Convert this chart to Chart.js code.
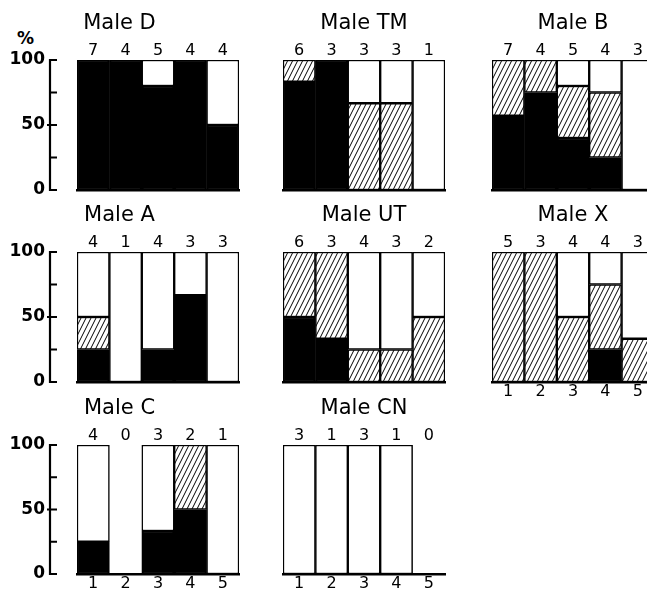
<!DOCTYPE html>
<html><head><meta charset="utf-8">
<script src="https://cdn.jsdelivr.net/npm/chart.js@4.4.1/dist/chart.umd.min.js"></script>
<style>
html,body{margin:0;padding:0;width:647px;height:594px;overflow:hidden;background:#fff;}
canvas{position:absolute;}
#pct{position:absolute;left:17px;top:28px;font:bold 17px "DejaVu Sans";color:#000;}
</style></head><body>
<div id="pct">%</div>
<script>
// ---- data ----
const categories = ['1','2','3','4','5'];
const yTicks = [0,25,50,75,100];
const yLabels = ['0','50','100'];
const panelNames = ['Male D','Male TM','Male B','Male A','Male UT','Male X','Male C','Male CN'];

const countsD  = [7,4,5,4,4];
const blackD   = [100,100,80,100,50];
const hatchD   = [null,null,null,null,null];
const whiteD   = [null,null,20,null,50];

const countsTM = [6,3,3,3,1];
const blackTM  = [83.3,100,null,null,null];
const hatchTM  = [16.7,null,66.7,66.7,null];
const whiteTM  = [null,null,33.3,33.3,100];

const countsB  = [7,4,5,4,3];
const blackB   = [57.1,75,40,25,null];
const hatchB   = [42.9,25,40,50,null];
const whiteB   = [null,null,20,25,100];

const countsA  = [4,1,4,3,3];
const blackA   = [25,null,25,66.7,null];
const hatchA   = [25,null,null,null,null];
const whiteA   = [50,100,75,33.3,100];

const countsUT = [6,3,4,3,2];
const blackUT  = [50,33.3,null,null,null];
const hatchUT  = [50,66.7,25,25,50];
const whiteUT  = [null,null,75,75,50];

const countsX  = [5,3,4,4,3];
const blackX   = [null,null,null,25,null];
const hatchX   = [100,100,50,50,33.3];
const whiteX   = [null,null,50,25,66.7];

const countsC  = [4,0,3,2,1];
const blackC   = [25,null,33.3,50,null];
const hatchC   = [null,null,null,50,null];
const whiteC   = [75,null,66.7,null,100];

const countsCN = [3,1,3,1,0];
const blackCN  = [null,null,null,null,null];
const hatchCN  = [null,null,null,null,null];
const whiteCN  = [100,100,100,100,null];

const panelCounts = [countsD,countsTM,countsB,countsA,countsUT,countsX,countsC,countsCN];
const panelBlack  = [blackD,blackTM,blackB,blackA,blackUT,blackX,blackC,blackCN];
const panelHatch  = [hatchD,hatchTM,hatchB,hatchA,hatchUT,hatchX,hatchC,hatchCN];
const panelWhite  = [whiteD,whiteTM,whiteB,whiteA,whiteUT,whiteX,whiteC,whiteCN];
const showBottomLabels = [false,false,false,false,false,true,true,true];

// ---- layout ----
const colLeft = [77,283,492];
const PW = 162;
const rowTB = [[60,190],[252,382],[445,574]];
const TOP = 52, BOT = 24;
const TITLE_FONT = 21, TITLE_PADTOP = 3.4;

Chart.defaults.font.family = '"DejaVu Sans", sans-serif';
Chart.defaults.color = '#000';

function makeHatch(){
  const c=document.createElement('canvas'); c.width=5; c.height=10;
  const g=c.getContext('2d');
  g.fillStyle='#fff'; g.fillRect(0,0,5,10);
  g.strokeStyle='#000'; g.lineWidth=1;
  g.beginPath();
  g.moveTo(0,10); g.lineTo(5,0);
  g.moveTo(-5,10); g.lineTo(0,0);
  g.moveTo(5,10); g.lineTo(10,0);
  g.stroke();
  return g.createPattern(c,'repeat');
}
const hatchFill = makeHatch();

const spine = {
  id:'spine',
  afterDraw(chart){
    const y = chart.scales.y, ctx = chart.ctx;
    const x0 = chart.chartArea.left - 27;
    ctx.save();
    ctx.strokeStyle='#000'; ctx.lineWidth=2.2;
    ctx.beginPath();
    ctx.moveTo(x0, y.getPixelForValue(0)+1);
    ctx.lineTo(x0, y.getPixelForValue(100)-1);
    yTicks.forEach(v=>{
      const p = y.getPixelForValue(v);
      ctx.moveTo(v===50 ? x0-3 : x0-1, p);
      ctx.lineTo(x0+7, p);
    });
    ctx.stroke();
    ctx.restore();
  }
};

panelNames.forEach((name,i)=>{
  const col=i%3, row=Math.floor(i/3);
  const [t,b]=rowTB[row];
  const L=colLeft[col];
  const hasY = col===0;
  const cw = hasY ? 2*L+PW : PW+8;
  const ch = TOP + (b-t) + BOT;
  const cv = document.createElement('canvas');
  cv.width=cw; cv.height=ch;
  cv.style.left = (hasY?0:L-4)+'px';
  cv.style.top = (t-TOP)+'px';
  cv.style.width=cw+'px'; cv.style.height=ch+'px';
  document.body.appendChild(cv);

  const ds = (data,bg)=>({data, backgroundColor:bg, borderColor:'#000', borderWidth:1.5,
    borderSkipped:false, barPercentage:1, categoryPercentage:1, stack:'s'});

  new Chart(cv,{
    type:'bar',
    data:{labels:categories, datasets:[
      ds(panelBlack[i],'#000'),
      ds(panelHatch[i],hatchFill),
      ds(panelWhite[i],'#fff')
    ]},
    options:{
      responsive:false, animation:false, devicePixelRatio:1,
      layout:{padding:{left:hasY?0:4, right:hasY?L:4, top:0, bottom:0}},
      plugins:{
        legend:{display:false}, tooltip:{enabled:false},
        title:{display:true, text:name, font:{size:TITLE_FONT, weight:'normal'},
          padding:{top:TITLE_PADTOP,bottom:0}, color:'#000'}
      },
      scales:{
        x:{type:'category', position:'bottom', offset:true,
          grid:{display:false, drawTicks:false},
          border:{display:true, color:'#000', width:2.5},
          ticks:{display:showBottomLabels[i], padding:0, font:{size:16}, autoSkip:false, maxRotation:0, color:'#000'},
          afterFit(s){ s.height = BOT; }
        },
        x2:{type:'category', position:'top', offset:true, labels:panelCounts[i].map(String),
          grid:{display:false, drawTicks:false}, border:{display:false},
          ticks:{padding:0, font:{size:16}, autoSkip:false, maxRotation:0, color:'#000'},
          afterFit(s){ s.height = TOP - (TITLE_FONT*1.2 + TITLE_PADTOP); }
        },
        y:{display:hasY, stacked:true, min:0, max:100,
          grid:{display:false, drawTicks:false}, border:{display:false},
          afterBuildTicks(s){ s.ticks = yTicks.map(v=>({value:v})); },
          ticks:{padding:32, font:{size:17, weight:'bold'}, color:'#000',
            callback:(v)=> yLabels.includes(String(v)) ? String(v) : ''},
          afterFit(s){ if (hasY) { s.width = L; s.paddingTop = 0; s.paddingBottom = 0; } }
        }
      }
    },
    plugins: hasY ? [spine] : []
  });
});
</script>
</body></html>
